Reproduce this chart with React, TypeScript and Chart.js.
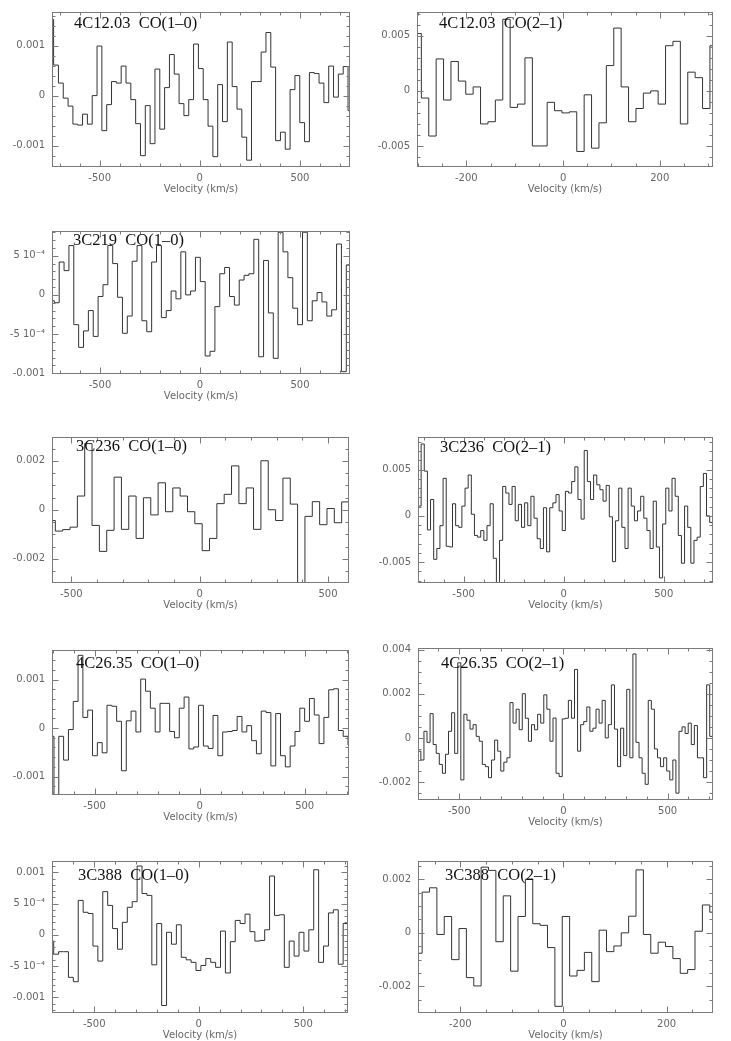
import React, { useEffect, useRef } from 'react';
import { Chart, registerables } from 'chart.js';

Chart.register(...registerables);

const VELOCITY_LABEL = 'Velocity (km/s)';

// ---------------- data ----------------
// Channel values (Jy) of each spectrum; channels start at V0 (km/s) and are DV wide.
const A_TITLE = '4C12.03  CO(1\u20130)';
const A_V0 = -754.1;
const A_DV = 24.1;
const A_VALUES = [0.00152, 0.00061, 0.00025, -0.00005, -0.00021, -0.00057, -0.00059, -0.00037, -0.00057, 0, 0.00099, -0.0007, -0.00018, 0.00028, 0.00025, 0.00059, 0.00025, -0.00008, -0.00056, -0.0012, -0.0002, -0.00096, 0.00053, -0.00067, 0.00016, 0.00082, 0.00043, -0.00016, -0.0004, -0.00008, 0.00103, 0.00054, -0.00008, -0.00061, -0.00122, 0.00022, -0.00052, 0.00107, 0.00018, -0.00027, -0.00083, -0.00129, 0.00028, 0.00028, 0.00087, 0.00126, 0.00057, -0.0009, -0.00073, -0.00107, 0.00012, 0.0004, -0.00054, -0.00092, 0.00046, 0.00044, 0.00025, -0.00014, 0.00059, -0.00003, 0.00043, 0.00058, -0.0003];

const B_TITLE = '4C12.03  CO(2\u20131)';
const B_V0 = -308.3;
const B_DV = 15.3;
const B_VALUES = [0.0052, -0.00065, -0.0041, 0.0029, -0.00083, 0.00267, 0.00089, -0.0003, 0.00036, -0.003, -0.0028, -0.00083, 0.0065, -0.0015, -0.0012, 0.003, -0.005, -0.005, -0.00104, -0.0018, -0.002, -0.0019, -0.0055, -0.00036, -0.0052, -0.0029, 0.0023, 0.0057, 0.00036, -0.0028, -0.0016, -0.0002, 0.0, -0.0012, 0.0041, 0.0045, -0.003, 0.0017, 0.0012, -0.0016, 0.0041];

const C_TITLE = '3C219  CO(1\u20130)';
const C_V0 = -752.7;
const C_DV = 24.33;
const C_VALUES = [-0.000075, -0.0001, 0.00042, 0.00031, 0.00063, -0.00038, -0.00067, -0.00046, -0.0002, -0.00053, -0.00002, 0.00013, 0.00063, 0.0004, -0.00003, -0.00049, -0.00027, 0.00043, 0.00063, -0.00033, -0.00047, 0.00042, 0.00063, -0.00029, -0.0002, 0.00005, -0.00005, 0.00055, 0, 0.00005, 0.00048, 0.00017, -0.00078, -0.00072, -0.00015, 0.00027, 0.00035, -0.00002, -0.00013, 0.00019, 0.00025, 0.00027, 0.00071, -0.00079, 0.00044, -0.00023, -0.00081, 0.0008, 0.00055, 0.00022, -0.00017, -0.00038, 0.0008, -0.00033, -0.000075, 0.00003, -0.00009, -0.00027, -0.00019, 0.00065, -0.00098, 0.00038];

const D_TITLE = '3C236  CO(1\u20130)';
const D_V0 = -590.6;
const D_DV = 28.6;
const D_VALUES = [-0.00044, -0.00087, -0.00081, -0.00071, 0.00056, 0.0027, -0.00064, -0.0017, -0.00084, 0.00133, -0.0008, 0.00056, -0.00117, 0.00049, -0.00021, 0.0011, -0.00008, 0.00089, 0.00056, -0.00008, -0.00057, -0.00167, -0.00117, 0.00025, 0.00063, 0.00179, 0.00025, 0.00089, -0.0008, 0.002, 0, -0.00044, 0.00129, 0.00023, -0.003, -0.00027, 0.00033, -0.00061, 0.00005, -0.00053, 0.00032];

const E_TITLE = '3C236  CO(2\u20131)';
const E_V0 = -728;
const E_DV = 15.67;
const E_VALUES = [0.00106, 0.00777, 0.00484, -0.00152, 0.00177, -0.0047, -0.00353, -0.00106, 0.00406, -0.00329, -0.00336, 0.00131, -0.00106, -0.00124, 0.00106, 0.003, 0.00442, 0.00018, -0.00212, -0.0023, -0.00159, -0.00265, -0.00106, 0.00131, -0.00459, -0.00724, -0.00265, 0.00318, 0.00247, 0.00124, 0.00318, -0.00053, 0.00124, -0.00124, 0.00141, -0.00106, 0.00212, -0.00025, -0.00247, -0.00353, 0.00088, -0.00389, 0.00088, 0.00141, 0.0023, 0.00053, -0.00159, 0.00265, 0.00247, 0.00371, 0.0053, 0.00177, -0.00035, 0.00707, 0.00371, 0.00177, 0.00442, 0.00336, 0.00283, 0.00159, 0.00329, -0.0001, -0.00495, -0.00053, 0.003, -0.00124, -0.00353, 0.003, 0.00106, -0.00053, 0.00053, 0.00212, -0.00025, -0.00159, -0.00353, 0.00159, -0.00336, -0.00671, -0.00088, 0.003, 0.00053, 0.00406, 0.00212, -0.00212, -0.00512, 0.00106, -0.00124, -0.00512, -0.00265, -0.0023, 0.00318, 0.00459, 0, -0.00071];

const F_TITLE = '4C26.35  CO(1\u20130)';
const F_V0 = -716.6;
const F_DV = 22.95;
const F_VALUES = [-0.00017, -0.00139, -0.00017, -0.00066, -0.00003, 0.00055, 0.0015, 0.00022, 0.00037, -0.00057, -0.0003, -0.00051, 0.00047, 0.00045, 0.00014, -0.00088, 0.00015, 0.00035, -0.00008, 0.00101, 0.00076, 0.00041, -0.00008, 0.00051, 0.00051, -0.00007, -0.0002, 0.00041, 0.00064, -0.00043, -0.00039, 0.00047, -0.00037, -0.00042, 0.00026, -0.00057, -0.00008, -0.00007, -0.00005, 0.00024, -0.00008, 0.00005, -0.00026, -0.00053, 0.00035, 0.00032, -0.00078, 0.0003, -0.00057, -0.0008, -0.00037, -0.00007, 0.00041, 0.00014, 0.00061, 0.00027, -0.00032, 0.00022, 0.00079, 0.00081, -0.00005, -0.00017, -0.00035];

const G_TITLE = '4C26.35  CO(2\u20131)';
const G_V0 = -699;
const G_DV = 14.75;
const G_VALUES = [-0.0006, -0.001, 0.0003, -0.0002, 0.0011, -0.0003, -0.0007, -0.0012, -0.0016, -0.00074, 0.0003, 0.00114, -0.0007, 0.0034, -0.0019, 0.00107, 0.0008, 0.0004, 0.0006, 0.00007, -0.00015, -0.0012, -0.0013, -0.0018, -0.001, -0.0001, -0.0006, -0.0015, -0.0011, -0.0009, 0.0016, 0.00067, 0.0013, 0.00037, 0.002, 0.00089, -0.00015, 0.0006, 0.00037, 0.00107, 0.00067, 0.00195, 0.0013, -0.00015, 0.0009, -0.0016, -0.00175, 0.00086, 0.00089, 0.0017, 0.00089, 0.0031, -0.0006, 0.0006, 0.00074, 0.0014, 0.0003, 0.00044, 0.0013, 0.00067, 0.0017, 0, 0.0006, 0.0024, 0.0004, -0.0013, 0.00044, -0.0008, 0.0022, -0.0009, 0.0038, -0.0002, -0.0009, -0.0016, -0.0021, 0.0017, 0.0013, -0.0005, -0.0009, -0.0013, -0.0009, -0.0015, -0.0019, -0.001, -0.0025, 0.0003, 0.0005, 0.0002, 0.00067, -0.0003, 0.00056, -0.0009, -0.0009, -0.0018, 0.0024, 0.00007];

const H_TITLE = '3C388  CO(1\u20130)';
const H_V0 = -717.3;
const H_DV = 23.47;
const H_VALUES = [-0.0001, -0.00031, -0.00027, -0.00027, -0.00068, -0.00075, 0.00055, 0.00036, 0.00034, -0.00018, -0.00042, 0.00069, 0.00047, 0.0001, -0.00023, 0.0002, 0.00044, 0.00053, 0.0011, 0.00066, 0.00063, -0.00048, 0.00018, -0.00113, 0.00004, -0.00015, 0.00016, -0.00036, -0.0004, -0.00044, -0.00057, -0.00049, -0.00038, -0.00044, -0.00052, 0.00006, -0.00061, -0.00011, 0.00023, 0.00018, 0.00033, 0.00005, -0.0001, -0.00009, 0.00008, 0.00094, 0.00031, 0.00032, -0.00052, -0.0001, -0.00034, 0.00004, -0.00026, 0.00008, 0.00104, -0.00044, -0.00018, 0.00035, 0.0004, -0.00047, 0.00018, -0.0002];

const I_TITLE = '3C388  CO(2\u20131)';
const I_V0 = -288.3;
const I_DV = 14.3;
const I_VALUES = [-0.00076, 0.00152, 0.00168, -0.00006, 0.00061, -0.001, 0.00016, -0.00167, -0.00198, 0.00245, 0.00233, -0.00033, 0.00138, -0.00143, 0.00061, 0.002, 0.00034, 0.00028, -0.00055, -0.00274, 0.00061, -0.00161, -0.0014, -0.00073, -0.00182, 0.0001, -0.0007, -0.00049, 0, 0.00062, 0.00235, -0.00006, -0.00076, -0.00035, -0.00051, -0.00096, -0.00151, -0.00137, 0.00006, 0.00104, 0.00077];

// tick values and labels
const X_TICKS_WIDE = [-500, 0, 500];
const X_TICKS_NARROW = [-200, 0, 200];
const Y_TICKS_1E3 = [-0.001, 0, 0.001];
const Y_LABELS_1E3 = ['-0.001', '0', '0.001'];
const Y_TICKS_5E3 = [-0.005, 0, 0.005];
const Y_LABELS_5E3 = ['-0.005', '0', '0.005'];
const Y_TICKS_2E3 = [-0.002, 0, 0.002];
const Y_LABELS_2E3 = ['-0.002', '0', '0.002'];
const Y_TICKS_C = [-0.001, -0.0005, 0, 0.0005];
const Y_LABELS_C = ['-0.001', '-5 10\u207B\u2074', '0', '5 10\u207B\u2074'];
const Y_TICKS_G = [-0.002, 0, 0.002, 0.004];
const Y_LABELS_G = ['-0.002', '0', '0.002', '0.004'];
const Y_TICKS_H = [-0.001, -0.0005, 0, 0.0005, 0.001];
const Y_LABELS_H = ['-0.001', '-5 10\u207B\u2074', '0', '5 10\u207B\u2074', '0.001'];

type PanelCfg = {
  title: string;
  values: number[];
  v0: number;
  dv: number;
  box: [number, number, number, number]; // left, top, right, bottom (page px)
  xRange: [number, number];
  yRange: [number, number];
  xTicks: number[];
  xMinor: number;
  yTicks: number[];
  yLabels: string[];
  yMinor: number;
  titlePos: [number, number]; // left, vertical centre
};

const PANELS: PanelCfg[] = [
  { title: A_TITLE, values: A_VALUES, v0: A_V0, dv: A_DV, box: [52, 9, 350, 167], xRange: [-738, 750], yRange: [-0.001426, 0.00167], xTicks: X_TICKS_WIDE, xMinor: 100, yTicks: Y_TICKS_1E3, yLabels: Y_LABELS_1E3, yMinor: 0.0002, titlePos: [74, 23] },
  { title: B_TITLE, values: B_VALUES, v0: B_V0, dv: B_DV, box: [417, 9, 713, 167], xRange: [-302, 310], yRange: [-0.00691, 0.00716], xTicks: X_TICKS_NARROW, xMinor: 50, yTicks: Y_TICKS_5E3, yLabels: Y_LABELS_5E3, yMinor: 0.001, titlePos: [439, 23] },
  { title: C_TITLE, values: C_VALUES, v0: C_V0, dv: C_DV, box: [52, 228, 350, 374], xRange: [-740, 750], yRange: [-0.00101, 0.000816], xTicks: X_TICKS_WIDE, xMinor: 100, yTicks: Y_TICKS_C, yLabels: Y_LABELS_C, yMinor: 0.0001, titlePos: [73, 240] },
  { title: D_TITLE, values: D_VALUES, v0: D_V0, dv: D_DV, box: [52, 434, 349, 583], xRange: [-575, 582], yRange: [-0.00299, 0.00297], xTicks: X_TICKS_WIDE, xMinor: 100, yTicks: Y_TICKS_2E3, yLabels: Y_LABELS_2E3, yMinor: 0.0005, titlePos: [76, 446] },
  { title: E_TITLE, values: E_VALUES, v0: E_V0, dv: E_DV, box: [418, 434, 713, 583], xRange: [-728, 746], yRange: [-0.00726, 0.00853], xTicks: X_TICKS_WIDE, xMinor: 100, yTicks: Y_TICKS_5E3, yLabels: Y_LABELS_5E3, yMinor: 0.001, titlePos: [440, 447] },
  { title: F_TITLE, values: F_VALUES, v0: F_V0, dv: F_DV, box: [52, 647, 349, 795], xRange: [-703, 711], yRange: [-0.00138, 0.00161], xTicks: X_TICKS_WIDE, xMinor: 100, yTicks: Y_TICKS_1E3, yLabels: Y_LABELS_1E3, yMinor: 0.0002, titlePos: [76, 663] },
  { title: G_TITLE, values: G_VALUES, v0: G_V0, dv: G_DV, box: [418, 645, 713, 800], xRange: [-698, 718], yRange: [-0.00281, 0.00407], xTicks: X_TICKS_WIDE, xMinor: 100, yTicks: Y_TICKS_G, yLabels: Y_LABELS_G, yMinor: 0.0005, titlePos: [441, 663] },
  { title: H_TITLE, values: H_VALUES, v0: H_V0, dv: H_DV, box: [52, 858, 348, 1013], xRange: [-702, 714], yRange: [-0.00125, 0.00118], xTicks: X_TICKS_WIDE, xMinor: 100, yTicks: Y_TICKS_H, yLabels: Y_LABELS_H, yMinor: 0.0001, titlePos: [78, 875] },
  { title: I_TITLE, values: I_VALUES, v0: I_V0, dv: I_DV, box: [418, 858, 713, 1013], xRange: [-282, 290], yRange: [-0.00299, 0.00268], xTicks: X_TICKS_NARROW, xMinor: 50, yTicks: Y_TICKS_2E3, yLabels: Y_LABELS_2E3, yMinor: 0.0005, titlePos: [445, 875] },
];

const PAD_LEFT = 50;
const PAD_TOP = 10;
const PAD_RIGHT = 10;
const PAD_BOTTOM = 30;
const AXIS_COLOR = '#7a7a7a';
const LABEL_COLOR = '#666';
const LINE_COLOR = '#333';

const framePlugin = {
  id: 'frameTicks',
  afterDatasetsDraw(chart: any, _args: any, opts: any) {
    const { ctx, chartArea: a, scales } = chart;
    const xs = scales.x;
    const ys = scales.y;
    const cfg: PanelCfg = opts.cfg;
    const L = Math.round(a.left) + 0.5;
    const R = Math.round(a.right) - 0.5;
    const T = Math.round(a.top) + 0.5;
    const B = Math.round(a.bottom) - 0.5;
    ctx.save();
    ctx.strokeStyle = AXIS_COLOR;
    ctx.lineWidth = 1;
    ctx.strokeRect(L, T, R - L, B - T);
    ctx.beginPath();
    const isMajor = (v: number, majors: number[], step: number) => majors.some((m) => Math.abs(m - v) < step * 0.01);
    const kx0 = Math.ceil(xs.min / cfg.xMinor);
    const kx1 = Math.floor(xs.max / cfg.xMinor);
    for (let k = kx0; k <= kx1; k++) {
      const v = k * cfg.xMinor;
      const len = isMajor(v, cfg.xTicks, cfg.xMinor) ? 6 : 3;
      const p = Math.round(xs.getPixelForValue(v)) + 0.5;
      ctx.moveTo(p, B);
      ctx.lineTo(p, B - len);
      ctx.moveTo(p, T);
      ctx.lineTo(p, T + len);
    }
    const ky0 = Math.ceil(ys.min / cfg.yMinor - 1e-6);
    const ky1 = Math.floor(ys.max / cfg.yMinor + 1e-6);
    for (let k = ky0; k <= ky1; k++) {
      const v = k * cfg.yMinor;
      const len = isMajor(v, cfg.yTicks, cfg.yMinor) ? 6 : 3;
      const p = Math.round(ys.getPixelForValue(v)) + 0.5;
      ctx.moveTo(L, p);
      ctx.lineTo(L + len, p);
      ctx.moveTo(R, p);
      ctx.lineTo(R - len, p);
    }
    ctx.stroke();
    ctx.restore();
  },
};

function Panel({ cfg }: { cfg: PanelCfg }) {
  const ref = useRef<HTMLCanvasElement | null>(null);
  const [bl, bt, br, bb] = cfg.box;
  const W = br - bl + PAD_LEFT + PAD_RIGHT;
  const H = bb - bt + PAD_TOP + PAD_BOTTOM;

  useEffect(() => {
    if (!ref.current) return;
    const points = cfg.values.map((y, i) => ({ x: cfg.v0 + i * cfg.dv, y }));
    points.push({ x: cfg.v0 + cfg.values.length * cfg.dv, y: cfg.values[cfg.values.length - 1] });
    const tickFont = { size: 10, family: 'DejaVu Sans' };
    const chart = new Chart(ref.current, {
      type: 'line',
      data: {
        datasets: [
          {
            data: points,
            stepped: 'before',
            borderColor: LINE_COLOR,
            borderWidth: 1,
            pointRadius: 0,
            fill: false,
          } as any,
        ],
      },
      options: {
        responsive: false,
        maintainAspectRatio: false,
        animation: false,
        layout: { padding: { left: 0, top: PAD_TOP, right: PAD_RIGHT, bottom: 0 } },
        plugins: {
          legend: { display: false },
          tooltip: { enabled: false },
          frameTicks: { cfg },
        } as any,
        scales: {
          x: {
            type: 'linear',
            min: cfg.xRange[0],
            max: cfg.xRange[1],
            grid: { display: false, drawTicks: false },
            border: { display: false },
            afterBuildTicks: (s: any) => {
              s.ticks = cfg.xTicks.map((v) => ({ value: v }));
            },
            afterFit: (s: any) => {
              s.height = PAD_BOTTOM;
            },
            ticks: {
              autoSkip: false,
              maxRotation: 0,
              padding: 5,
              color: LABEL_COLOR,
              font: tickFont,
              callback: (v: any) => String(v),
            },
            title: {
              display: true,
              text: VELOCITY_LABEL,
              color: LABEL_COLOR,
              font: tickFont,
              padding: { top: 0, bottom: 2 },
            },
          },
          y: {
            type: 'linear',
            min: cfg.yRange[0],
            max: cfg.yRange[1],
            grid: { display: false, drawTicks: false },
            border: { display: false },
            afterBuildTicks: (s: any) => {
              s.ticks = cfg.yTicks.map((v) => ({ value: v }));
            },
            afterFit: (s: any) => {
              s.width = PAD_LEFT;
            },
            ticks: {
              autoSkip: false,
              padding: 7,
              color: LABEL_COLOR,
              font: tickFont,
              callback: (_v: any, i: number) => cfg.yLabels[i],
            },
          },
        },
      } as any,
      plugins: [framePlugin as any],
    });
    return () => chart.destroy();
  }, [cfg]);

  return (
    <>
      <canvas
        ref={ref}
        width={W}
        height={H}
        style={{ position: 'absolute', left: bl - PAD_LEFT, top: bt - PAD_TOP, width: W, height: H }}
      />
      <div
        style={{
          position: 'absolute',
          left: cfg.titlePos[0],
          top: cfg.titlePos[1] - 10,
          font: '16.5px "Liberation Serif", "DejaVu Serif", serif',
          lineHeight: '20px',
          whiteSpace: 'pre',
          color: '#111',
        }}
      >
        {cfg.title}
      </div>
    </>
  );
}

export default function App() {
  return (
    <div style={{ position: 'absolute', left: 0, top: 0, width: 731, height: 1041, background: '#fff', overflow: 'hidden' }}>
      {PANELS.map((p) => (
        <Panel key={p.title} cfg={p} />
      ))}
    </div>
  );
}
